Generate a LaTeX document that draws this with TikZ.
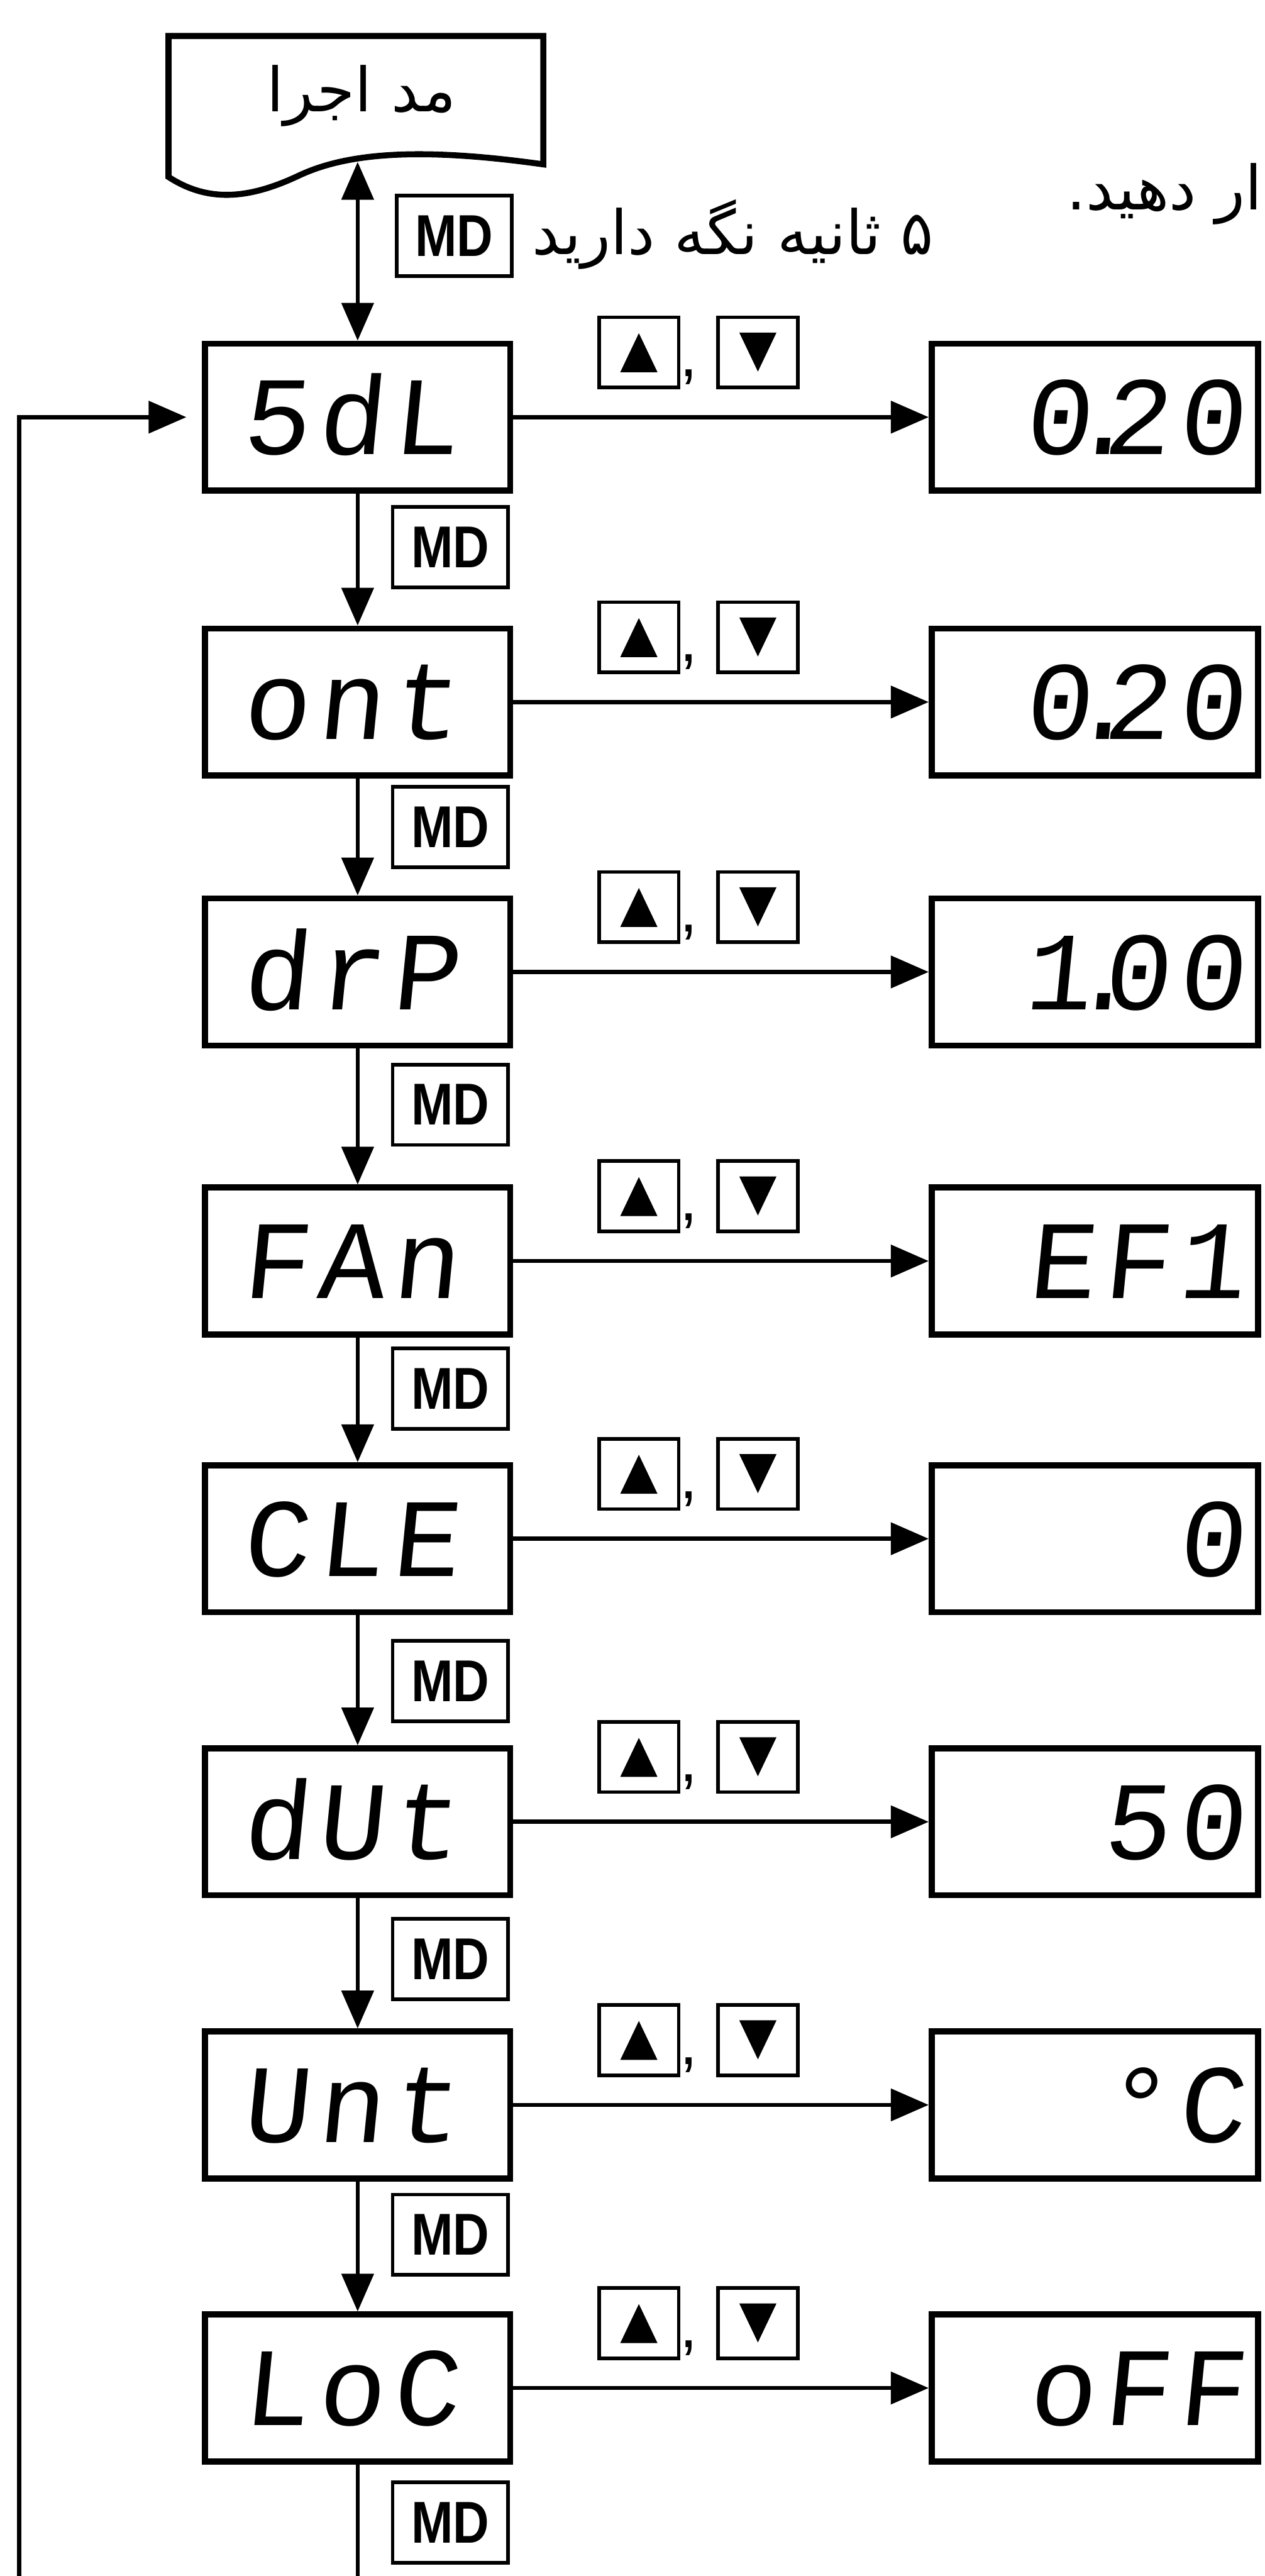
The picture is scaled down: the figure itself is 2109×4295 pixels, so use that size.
\documentclass[tikz,border=0pt]{standalone}
\usepackage{fontspec}
\usetikzlibrary{arrows.meta,calc}
\TeXXeTstate=1
\newfontfamily\arabicfont[Script=Arabic]{DejaVu Sans}
\newfontfamily\segfont[FakeSlant=0.1,LetterSpace=7]{Liberation Mono}
\newfontfamily\mdfont[FakeStretch=0.85]{Liberation Sans}
\newfontfamily\commafont{Liberation Sans}
\tikzset{
  box/.style={draw, line width=2.85pt, minimum width=5.09cm, minimum height=2.45cm, inner sep=0pt},
  valbox/.style={box, minimum width=5.44cm},
  mdbox/.style={draw, line width=1.7pt, minimum width=1.92cm, minimum height=1.34cm, inner sep=0pt,
    font=\mdfont\bfseries\fontsize{28}{28}\selectfont},
  btn/.style={draw, line width=1.7pt, minimum width=1.33cm, minimum height=1.17cm, inner sep=0pt},
  seg/.style={inner sep=0pt, font=\segfont\fontsize{53}{53}\selectfont},
  fa/.style={inner sep=0pt, font=\arabicfont\fontsize{29}{29}\selectfont},
  conn/.style={line width=2pt},
  arr/.style={conn, -{Triangle[length=0.63cm,width=0.53cm]}},
  dblarr/.style={conn, {Triangle[length=0.63cm,width=0.53cm]}-{Triangle[length=0.63cm,width=0.53cm]}},
}
\begin{document}
\begin{tikzpicture}[x=0.01cm,y=-0.01cm]
\useasboundingbox (0,0) rectangle (2109,4295);
% document shape
\draw[line width=2.85pt, line join=miter] (906,274) -- (906,60) -- (281,60) -- (281,295)
  .. controls (350,340) and (420,330) .. (500,292)
  .. controls (580,255) and (700,245) .. (906,274) -- cycle;
\node[fa, anchor=base] (doclabel) at (603,186) {\beginR مد اجرا\endR};
\coordinate (docb) at (596.5,270);
% top MD and hold text
\node[mdbox] (m0) at (757.5,393) {MD};
\node[fa, anchor=base west] (hold) at (887,424) {\beginR ۵ ثانیه نگه دارید\endR};
\node[fa, anchor=base east] (note) at (2106,350) {\beginR ار دهید.\endR};
% rows
\foreach \i/\rT/\rlab/\rval/\rmd in {
  1/568/5dL/{0\kern-.2em.\kern-.3em20}/842,
  2/1043/ont/{0\kern-.2em.\kern-.3em20}/1309,
  3/1493/drP/{1\kern-.2em.\kern-.3em00}/1772,
  4/1975/FAn/EF1/2245,
  5/2438/CLE/0/2733,
  6/2910/dUt/50/3196,
  7/3382/Unt/°C/3656,
  8/3854/LoC/oFF/4136}{
  \node[box] (b\i) at (596.5,{\rT+127.5}) {};
  \node[valbox] (v\i) at (1826,{\rT+127.5}) {};
  \node[seg, anchor=base] (t\i) at (584,{\rT+190}) {\rlab};
  \node[seg, anchor=base east] (w\i) at (2076,{\rT+190}) {\rval};
  \node[mdbox] (m\i) at (751,{\rmd+70}) {MD};
  \node[btn] (u\i) at (1065.5,{\rT+19.5}) {};
  \node[btn] (d\i) at (1264,{\rT+19.5}) {};
  \node[inner sep=0pt, anchor=base, font=\commafont\fontsize{30}{30}\selectfont] (c\i) at (1149,{\rT+60}) {,};
  \fill ($(u\i.center)+(-31,33)$) -- ($(u\i.center)+(31,33)$) -- ($(u\i.center)+(0,-32)$) -- cycle;
  \fill ($(d\i.center)+(-31,-33)$) -- ($(d\i.center)+(31,-33)$) -- ($(d\i.center)+(0,32)$) -- cycle;
  \draw[arr] (b\i.east) -- (v\i.west);
}
\foreach \i [evaluate=\i as \j using int(\i+1)] in {1,...,7}{
  \draw[arr] (b\i.south) -- (b\j.north);
}
\draw[dblarr] (docb) -- (b1.north);
\coordinate (cbot) at (596.5,4295);
\draw[conn] (b8.south) -- (cbot);
\coordinate (lbot) at (32,4295);
\draw[arr, shorten >=0.26cm] (lbot) |- (b1.west);
\end{tikzpicture}
\end{document}
